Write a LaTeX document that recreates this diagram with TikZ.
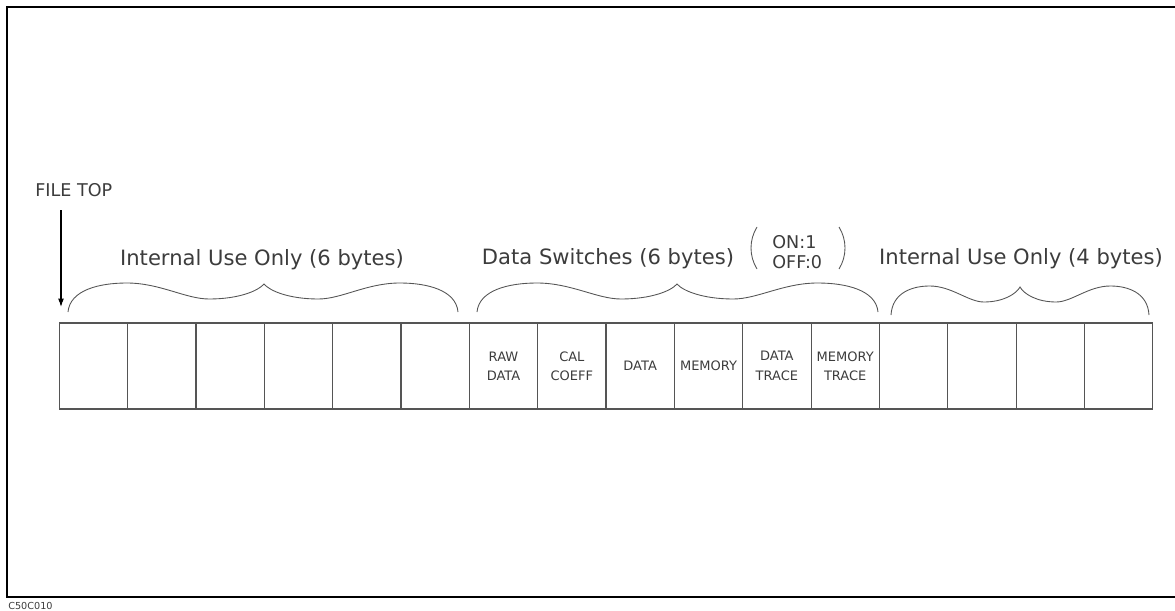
\documentclass[tikz,border=0pt]{standalone}
\usepackage{fontspec}
\setmainfont{DejaVu Sans}
\usetikzlibrary{arrows.meta,positioning}
\definecolor{ink}{RGB}{60,60,60}
\definecolor{rule}{RGB}{85,85,85}

% curly brace over a group of bytes: left x, middle x, right x, top y (pixels)
\newcommand\bytebrace[4]{%
  \draw[bracket] ({#1},{#4+29})
    .. controls ({#1+0.01*(#2-#1)},{#4+7}) and ({#1+0.16*(#2-#1)},{#4}) .. ({#1+0.3*(#2-#1)},{#4})
    .. controls ({#1+0.47*(#2-#1)},{#4}) and ({#1+0.6*(#2-#1)},{#4+16}) .. ({#1+0.72*(#2-#1)},{#4+16})
    .. controls ({#1+0.87*(#2-#1)},{#4+16}) and ({#2-0.03*(#2-#1)},{#4+8}) .. ({#2},{#4+1})
    .. controls ({#2+0.03*(#3-#2)},{#4+8}) and ({#3-0.87*(#3-#2)},{#4+16}) .. ({#3-0.72*(#3-#2)},{#4+16})
    .. controls ({#3-0.6*(#3-#2)},{#4+16}) and ({#3-0.47*(#3-#2)},{#4}) .. ({#3-0.3*(#3-#2)},{#4})
    .. controls ({#3-0.16*(#3-#2)},{#4}) and ({#3-0.01*(#3-#2)},{#4+7}) .. ({#3},{#4+29});}

\begin{document}
\begin{tikzpicture}[x=0.02cm,y=-0.02cm,>=Latex,
  every node/.style={text=ink,inner sep=0pt},
  cell/.style={draw=rule,line width=0.6pt,outer sep=0pt,minimum width=1.3667cm,minimum height=1.72cm,
    align=center,font=\fontsize{7.4}{11}\selectfont},
  biglabel/.style={anchor=base,font=\fontsize{12}{14}\selectfont},
  bracket/.style={draw=rule,line width=0.5pt},
  pointer/.style={->,draw=black,line width=0.6pt,>={Latex[length=0.17cm,width=0.12cm]}}]
  \useasboundingbox (0,0) rectangle (1175,611);
  % frame
  \draw[line width=1.2pt] (1175,7) -- (7,7) -- (7,597) -- (1175,597);
  % the 16 bytes
  \foreach \i/\txt in {1/{},2/{},3/{},4/{},5/{},6/{},7/{RAW\\DATA},8/{CAL\\COEFF},9/{DATA},10/{MEMORY},
      11/{DATA\\TRACE},12/{MEMORY\\TRACE},13/{},14/{},15/{},16/{}}
    \node[cell] (c\i) at ({59.3+(\i-0.5)*68.34},366) {\txt};
  % braces and their labels
  \bytebrace{68}{264}{458}{283}
  \bytebrace{477}{677}{878}{283}
  \bytebrace{891}{1020}{1149}{286}
  \node[biglabel] (internal6) at (262,265) {Internal Use Only (6 bytes)};
  \node[biglabel] (switches) at (608,264) {Data Switches (6 bytes)};
  \node[biglabel] (internal4) at (1021,264) {Internal Use Only (4 bytes)};
  \node[anchor=base west,font=\fontsize{10}{12}\selectfont] (on) at (772,248) {ON:1};
  \node[anchor=base west,font=\fontsize{10}{12}\selectfont] (off) at (772,268) {OFF:0};
  \draw[bracket] (757,227) .. controls (749,240) and (749,256) .. (757,269);
  \draw[bracket] (839,227) .. controls (847,240) and (847,256) .. (839,269);
  % file top marker
  \node[anchor=base west,font=\fontsize{10}{12}\selectfont] (filetop) at (35,196) {FILE TOP};
  \coordinate (toptail) at (61,210);
  \coordinate (toptip) at (61,307);
  \draw[pointer] (toptail) -- (toptip);
  \node[anchor=base west,font=\fontsize{5.5}{6}\selectfont] (figno) at (8,609) {C50C010};
\end{tikzpicture}
\end{document}
